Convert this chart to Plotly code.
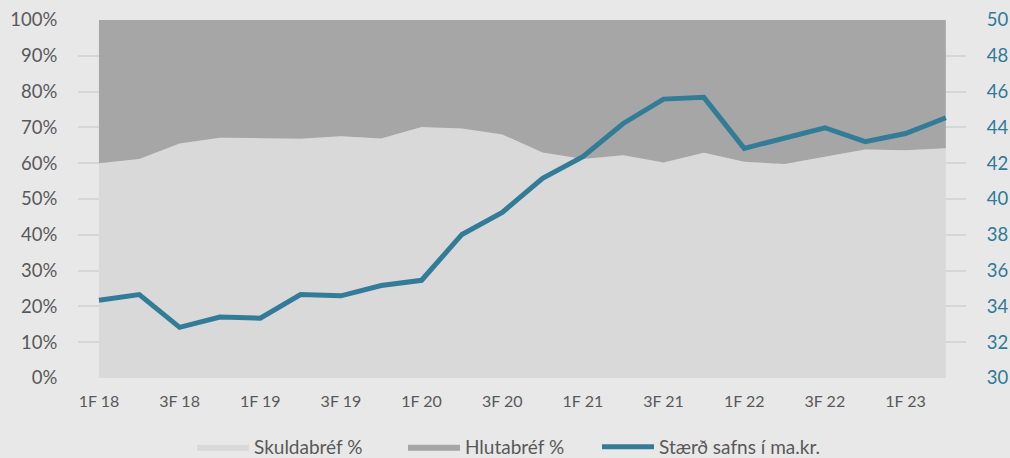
import plotly.graph_objects as go

# Ársfjórðungar 1F 18 - 2F 23
quarters = ["1F 18", "2F 18", "3F 18", "4F 18", "1F 19", "2F 19", "3F 19", "4F 19",
            "1F 20", "2F 20", "3F 20", "4F 20", "1F 21", "2F 21", "3F 21", "4F 21",
            "1F 22", "2F 22", "3F 22", "4F 22", "1F 23", "2F 23"]

skuldabref = [60.0, 61.2, 65.5, 67.1, 67.0, 66.8, 67.5, 66.9, 70.1, 69.7, 68.0, 63.0,
              61.2, 62.2, 60.2, 62.9, 60.4, 59.8, 61.8, 63.8, 63.6, 64.2]
hlutabref = [100 - v for v in skuldabref]

staerd = [34.34, 34.66, 32.83, 33.41, 33.34, 34.66, 34.59, 35.17, 35.46, 38.02, 39.25, 41.15,
          42.36, 44.22, 45.58, 45.68, 42.83, 43.44, 43.98, 43.20, 43.66, 44.54]

x = list(range(len(quarters)))
tick_idx = x[::2]
tick_text = [quarters[i] for i in tick_idx]

FONT = "Lato"
BG = "#e8e8e8"
LINE = "#337c98"
TXT = "#595959"

fig = go.Figure()

fig.add_trace(go.Scatter(
    x=x, y=skuldabref, name="Skuldabréf %", legend="legend",
    mode="lines", stackgroup="one", line=dict(width=0, color="#d9d9d9"),
    fillcolor="#d9d9d9"
))
fig.add_trace(go.Scatter(
    x=x, y=hlutabref, name="Hlutabréf %", legend="legend2",
    mode="lines", stackgroup="one", line=dict(width=0, color="#a6a6a6"),
    fillcolor="#a6a6a6"
))
fig.add_trace(go.Scatter(
    x=x, y=staerd, name="Stærð safns í ma.kr.", legend="legend3",
    mode="lines", line=dict(width=5, color=LINE), yaxis="y2"
))

# one legend per entry so the spacing can follow the original
leg = dict(orientation="h", xref="container", xanchor="left",
           yref="container", y=0.024, yanchor="middle",
           font=dict(size=19, color=TXT), bgcolor="rgba(0,0,0,0)", itemwidth=52)

fig.update_layout(
    width=1010, height=458,
    paper_bgcolor=BG, plot_bgcolor=BG,
    margin=dict(l=78, r=44, t=20, b=80, autoexpand=False),
    font=dict(family=FONT, size=15, color=TXT),
    showlegend=True,
    legend=dict(leg, x=192 / 1010),
    legend2=dict(leg, x=403 / 1010),
    legend3=dict(leg, x=597 / 1010),
    xaxis=dict(range=[-0.52, 21.5], tickvals=tick_idx, ticktext=tick_text,
               showgrid=False, zeroline=False, showline=False,
               tickfont=dict(size=16),
               ticks="outside", ticklen=9, tickcolor=BG),
    yaxis=dict(range=[0, 100], dtick=10, ticksuffix="%", showgrid=True,
               gridcolor="#d6d6d6", gridwidth=2, zeroline=False,
               tickfont=dict(size=18.5),
               ticks="outside", ticklen=16, tickcolor=BG),
    yaxis2=dict(range=[30, 50], dtick=2, overlaying="y", side="right",
                showgrid=False, zeroline=False,
                tickfont=dict(size=18.5, color="#2e7a98"),
                ticks="outside", ticklen=16, tickcolor=BG),
)

fig.write_html("out.html", config={"displayModeBar": False},
               post_script="document.body.style.margin='0';")
